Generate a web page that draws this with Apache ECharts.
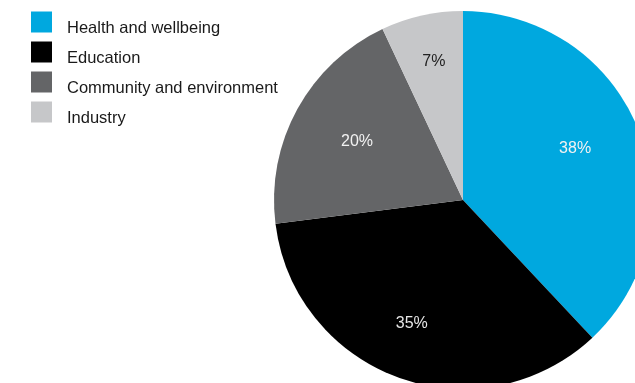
<!DOCTYPE html>
<html>
<head>
<meta charset="utf-8">
<script src="https://cdn.jsdelivr.net/npm/echarts@6/dist/echarts.min.js"></script>
<style>
  html, body { margin: 0; padding: 0; background: #fff; }
  #chart { width: 635px; height: 383px; }
</style>
</head>
<body>
<div id="chart"></div>
<script>
// Share of funding by area
const categories = ['Health and wellbeing', 'Education', 'Community and environment', 'Industry'];
const shares = [38, 35, 20, 7];
const sliceColors = ['#00a8df', '#000000', '#646567', '#c6c7c9'];
const labelColors = ['#f2f2f2', '#e6e6e6', '#f2f2f2', '#222222'];
// Small nudges of each percentage label from its ring position
const labelNudges = [[-12, -2], [-6, -2], [11, 6], [0, -8]];

const FONT = '"Liberation Sans", Arial, Helvetica, sans-serif';

const pieData = categories.map((name, i) => ({
  name,
  value: shares[i],
  itemStyle: { color: sliceColors[i] }
}));

// Transparent ring that carries the percentage labels further out than the
// default 'inside' placement of a full pie.
const labelData = categories.map((name, i) => ({
  name,
  value: shares[i],
  itemStyle: { color: 'rgba(0,0,0,0)' },
  label: { color: labelColors[i], offset: labelNudges[i] }
}));

const chart = echarts.init(document.getElementById('chart'), null, { renderer: 'canvas' });
chart.setOption({
  animation: false,
  color: sliceColors,
  legend: {
    orient: 'vertical',
    left: 31,
    top: 7.5,
    padding: 0,
    itemWidth: 21,
    itemHeight: 21,
    itemGap: 1,
    icon: 'rect',
    selectedMode: false,
    data: categories,
    formatter: name => '{t|' + name + '}',
    textStyle: {
      fontFamily: FONT,
      fontSize: 16.5,
      color: '#1a1a1a',
      rich: {
        t: {
          fontFamily: FONT,
          fontSize: 16.5,
          lineHeight: 18,
          color: '#1a1a1a',
          padding: [12, 0, 0, 10]
        }
      }
    }
  },
  series: [
    {
      type: 'pie',
      center: [463, 200],
      radius: [0, 189],
      startAngle: 90,
      clockwise: true,
      silent: true,
      label: { show: false },
      labelLine: { show: false },
      data: pieData
    },
    {
      type: 'pie',
      center: [463, 200],
      radius: [72, 189],
      startAngle: 90,
      clockwise: true,
      silent: true,
      label: {
        show: true,
        position: 'inside',
        fontFamily: FONT,
        fontSize: 16,
        formatter: p => p.value + '%'
      },
      labelLine: { show: false },
      data: labelData
    }
  ]
});
</script>
</body>
</html>
